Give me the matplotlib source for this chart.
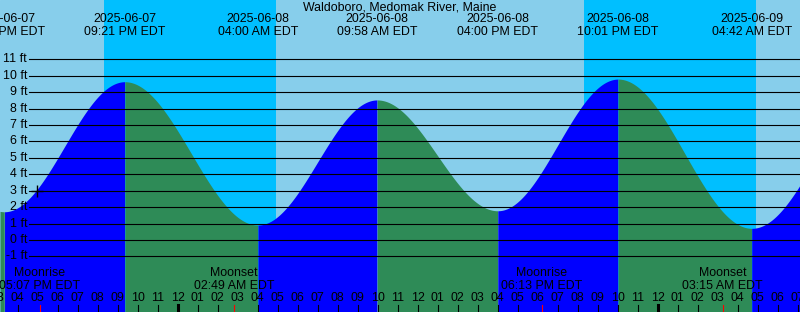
import numpy as np
import matplotlib
matplotlib.use("Agg")
import matplotlib.pyplot as plt
from matplotlib.transforms import blended_transform_factory

plt.rcParams['font.family'] = ['Liberation Sans', 'DejaVu Sans']

# ---- data (hours since 2025-06-07 00:00 EDT) ----
title = "Waldoboro, Medomak River, Maine"
tide_hours = [15.33, 21.35, 28.00, 33.967, 40.00, 46.017, 52.70]
tide_heights = [1.72, 9.64, 0.91, 8.53, 1.78, 9.80, 0.71]
tide_dates = ["2025-06-07", "2025-06-07", "2025-06-08", "2025-06-08",
              "2025-06-08", "2025-06-08", "2025-06-09"]
tide_times = ["03:20 PM EDT", "09:21 PM EDT", "04:00 AM EDT", "09:58 AM EDT",
              "04:00 PM EDT", "10:01 PM EDT", "04:42 AM EDT"]
night_start = [20.32, 44.32]
night_end = [28.92, 52.92]
moon_hours = [17.117, 26.817, 42.217, 51.25]
moon_names = ["Moonrise", "Moonset", "Moonrise", "Moonset"]
moon_times = ["05:07 PM EDT", "02:49 AM EDT", "06:13 PM EDT", "03:15 AM EDT"]
grid_ft = list(range(-1, 12))
now_hour = 16.97
now_ft = 3.0

# ---- layout constants ----
W, H = 800, 312
X0 = 15.115          # hour at left edge
PX_PER_H = 20.0
Y0_PX = 240.0        # pixel row of 0 ft
PX_PER_FT = 16.42
FS = 8.9

fig = plt.figure(figsize=(W / 100, H / 100), dpi=100)
ax = fig.add_axes([0, 0, 1, 1])
ax.set_xlim(X0, X0 + W / PX_PER_H)
ax.set_ylim((Y0_PX - H) / PX_PER_FT, Y0_PX / PX_PER_FT)
ax.axis('off')
ax.add_patch(plt.Rectangle((0, 0), 1, 1, transform=ax.transAxes,
                           color='#87CEEB', zorder=0))
for s, e in zip(night_start, night_end):
    ax.axvspan(s, e, color='#00BFFF', zorder=0.5, lw=0)

# tide curve: cosine interpolation between extremes
th = np.array(tide_hours)
hh = np.array(tide_heights)
t = np.linspace(X0, X0 + W / PX_PER_H, 3000)


def level(tt):
    if tt <= th[0]:
        d = th[1] - th[0]
        f = min((th[0] - tt) / d, 1)
        return hh[0] + (hh[1] - hh[0]) * (1 - np.cos(np.pi * f)) / 2
    if tt >= th[-1]:
        d = th[-1] - th[-2]
        f = min((tt - th[-1]) / d, 1)
        return hh[-1] + (hh[-2] - hh[-1]) * (1 - np.cos(np.pi * f)) / 2
    i = np.searchsorted(th, tt) - 1
    f = (tt - th[i]) / (th[i + 1] - th[i])
    return hh[i] + (hh[i + 1] - hh[i]) * (1 - np.cos(np.pi * f)) / 2


y = np.array([level(v) for v in t])
bottom = ax.get_ylim()[0]
edges = [X0] + tide_hours + [X0 + W / PX_PER_H]
for i in range(len(edges) - 1):
    a, b = edges[i], edges[i + 1]
    m = (t >= a) & (t <= b)
    # rising if segment ends at a high tide (or starts at a low)
    if i < len(tide_hours):
        rising = tide_heights[i] > (tide_heights[i - 1] if i > 0 else tide_heights[i] - 1) if False else None
    if i == 0:
        rising = False
    else:
        rising = tide_heights[i - 1] < (tide_heights[i] if i < len(tide_heights) else 99)
        if i == len(tide_hours):
            rising = tide_heights[-1] < tide_heights[-2]
    col = '#0000FF' if rising else '#2E8B57'
    ax.fill_between(t[m], y[m], bottom, color=col, lw=0, zorder=1)

# horizontal grid lines and labels
for g in grid_ft:
    ax.axhline(g, xmin=29 / W, xmax=1, color='black', lw=0.8, zorder=3)
    ax.text(27 / W, g, f"{g} ft", transform=blended_transform_factory(ax.transAxes, ax.transData),
            ha='right', va='center', fontsize=FS, zorder=4)

ax.plot([now_hour], [now_ft], marker='+', color='black', ms=8, mew=1, zorder=4)

tr = blended_transform_factory(ax.transData, fig.transFigure)


def fy(px):
    return 1 - px / H


ax.text(0.5, fy(7.7), title, transform=fig.transFigure, ha='center', va='center', fontsize=FS)
for h, d, tm in zip(tide_hours, tide_dates, tide_times):
    ax.text(h, fy(19.3), d, transform=tr, ha='center', va='center', fontsize=FS, zorder=4)
    ax.text(h, fy(31.7), tm, transform=tr, ha='center', va='center', fontsize=FS, zorder=4)

for h, n, tm in zip(moon_hours, moon_names, moon_times):
    ax.text(h, fy(273.3), n, transform=tr, ha='center', va='center', fontsize=FS, zorder=4)
    ax.text(h, fy(285.7), tm, transform=tr, ha='center', va='center', fontsize=FS, zorder=4)
    ax.plot([h, h], [fy(305), fy(312)], transform=tr, color='red', lw=0.8, zorder=4)

for hr in range(15, 56):
    lab = f"{(hr - 1) % 12 + 1:02d}"
    ax.text(hr, fy(297.7), lab, transform=tr, ha='center', va='center', fontsize=FS, zorder=4)
    if not any(abs(hr - m) < 0.3 for m in moon_hours):
        lw = 2.2 if hr % 24 == 0 else 0.8
        ax.plot([hr, hr], [fy(305), fy(312)], transform=tr, color='black', lw=lw, zorder=4)

fig.savefig("out.png", dpi=100)
